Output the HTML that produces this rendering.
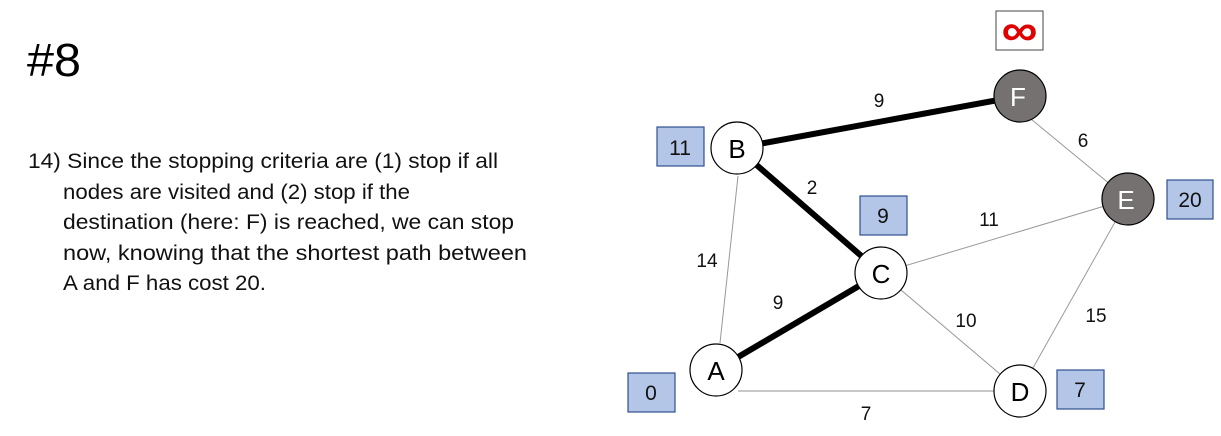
<!DOCTYPE html>
<html><head><meta charset="utf-8"><style>
html,body{margin:0;padding:0;background:#fff;}
svg{display:block;font-family:"Liberation Sans",sans-serif;}
</style></head><body>
<svg width="1221" height="436" viewBox="0 0 1221 436" xmlns="http://www.w3.org/2000/svg">
<text x="27" y="76" font-size="46" fill="#000" textLength="54" lengthAdjust="spacingAndGlyphs">#8</text>
<g font-size="21" fill="#111">
<text x="28" y="168" textLength="470" lengthAdjust="spacingAndGlyphs">14) Since the stopping criteria are (1) stop if all</text>
<text x="63" y="199" textLength="347" lengthAdjust="spacingAndGlyphs">nodes are visited and (2) stop if the</text>
<text x="63" y="229" textLength="451" lengthAdjust="spacingAndGlyphs">destination (here: F) is reached, we can stop</text>
<text x="63" y="260" textLength="464" lengthAdjust="spacingAndGlyphs">now, knowing that the shortest path between</text>
<text x="63" y="290" textLength="203" lengthAdjust="spacingAndGlyphs">A and F has cost 20.</text>
</g>
<!-- edges -->
<line x1="738" y1="391" x2="994" y2="391" stroke="#c8c8c8" stroke-width="2"/>
<line x1="720" y1="343" x2="738" y2="176" stroke="#999" stroke-width="1"/>
<line x1="1020" y1="110" x2="1128" y2="199" stroke="#999" stroke-width="1"/>
<line x1="881" y1="273" x2="1128" y2="199" stroke="#999" stroke-width="1"/>
<line x1="881" y1="273" x2="1020" y2="391" stroke="#999" stroke-width="1"/>
<line x1="1128" y1="199" x2="1020" y2="391" stroke="#999" stroke-width="1"/>
<line x1="737" y1="148" x2="1020" y2="96" stroke="#000" stroke-width="6"/>
<line x1="737" y1="148" x2="881" y2="273" stroke="#000" stroke-width="6"/>
<line x1="716" y1="370" x2="881" y2="273" stroke="#000" stroke-width="6"/>
<!-- boxes -->
<g stroke="#2f4f8f" stroke-width="1.2" fill="#b4c6e7">
<rect x="657" y="127" width="47" height="39"/>
<rect x="860" y="196" width="47" height="39"/>
<rect x="1167" y="180" width="46" height="39"/>
<rect x="628" y="373" width="47" height="39"/>
<rect x="1057" y="370" width="47" height="39"/>
</g>
<rect x="996" y="11" width="47" height="39" fill="#fff" stroke="#444" stroke-width="1"/>
<text x="1019.5" y="45" font-size="44" font-weight="bold" fill="#e00000" text-anchor="middle" textLength="36" lengthAdjust="spacingAndGlyphs">∞</text>
<g font-size="21" fill="#111" text-anchor="middle">
<text x="680" y="155">11</text>
<text x="883" y="223">9</text>
<text x="1190" y="207">20</text>
<text x="651" y="400">0</text>
<text x="1080" y="397">7</text>
</g>
<!-- nodes -->
<g stroke="#000" stroke-width="1.2">
<circle cx="737" cy="148" r="26" fill="#fff"/>
<circle cx="881" cy="273" r="26" fill="#fff"/>
<circle cx="716" cy="370" r="26" fill="#fff"/>
<circle cx="1020" cy="391" r="26" fill="#fff"/>
<circle cx="1020" cy="96" r="26" fill="#757171"/>
<circle cx="1128" cy="199" r="26" fill="#757171"/>
</g>
<g font-size="26" text-anchor="middle">
<text x="737" y="158" fill="#000">B</text>
<text x="881" y="283" fill="#000">C</text>
<text x="716" y="380" fill="#000">A</text>
<text x="1020" y="401" fill="#000">D</text>
<text x="1018" y="106" fill="#fff">F</text>
<text x="1126" y="209" fill="#fff">E</text>
</g>
<g font-size="19" fill="#111" text-anchor="middle">
<text x="879" y="107">9</text>
<text x="1083" y="147">6</text>
<text x="812" y="194">2</text>
<text x="989" y="226">11</text>
<text x="707" y="267">14</text>
<text x="778" y="309">9</text>
<text x="966" y="327">10</text>
<text x="1096" y="322">15</text>
<text x="866" y="420">7</text>
</g>
</svg>
</body></html>
